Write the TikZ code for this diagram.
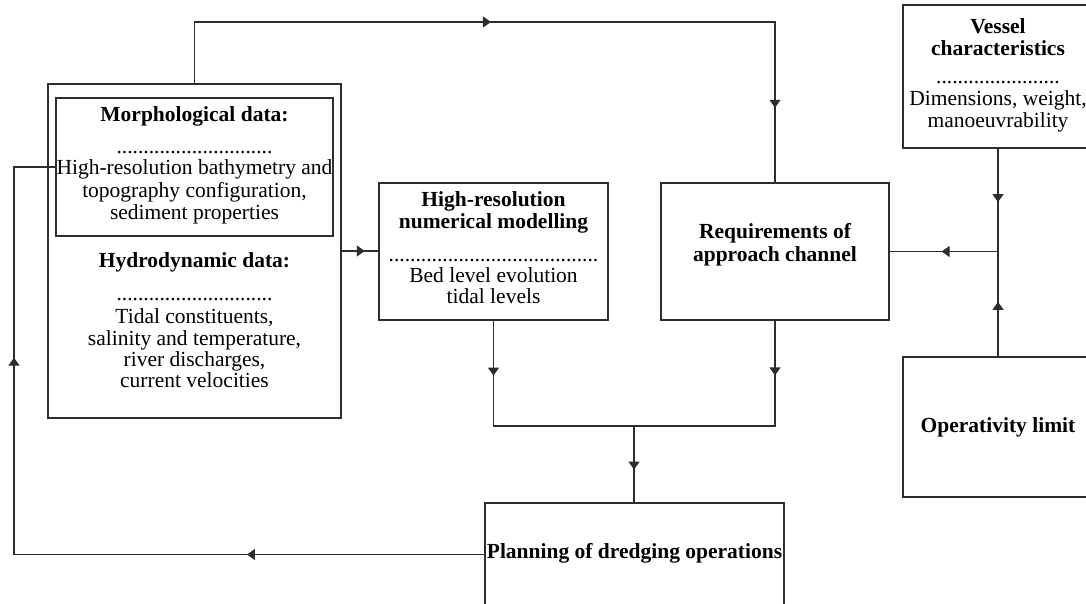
\documentclass[tikz,border=0pt]{standalone}
\usepackage{fontspec}
\setmainfont{Liberation Serif}
\usetikzlibrary{arrows.meta,decorations.markings}
\definecolor{lc}{RGB}{45,45,45}
\tikzset{
 box/.style={draw=lc, line width=1.2pt, inner sep=0pt},
 txt/.style={inner sep=0pt, font=\fontsize{21.5}{22}\selectfont, text height=14.5pt, text depth=4.5pt},
 btxt/.style={txt, font=\fontsize{21.5}{22}\selectfont\bfseries},
 dotline/.style={inner sep=0pt, anchor=base, font=\fontsize{21.5}{22}\selectfont},
 conn/.style={draw=lc, line width=1.2pt, line cap=rect},
 midarr/.style={postaction={decorate, decoration={markings, mark=at position #1 with {\arrow{Triangle[length=8pt,width=11pt]}}}}},
}
\begin{document}
\begin{tikzpicture}[x=1pt,y=-1pt]
\useasboundingbox (0,0) rectangle (1086,604);
% boxes
\node[box, minimum width=293pt, minimum height=334pt] (data) at (194.5,251) {};
\node[box, minimum width=277pt, minimum height=138pt] (morph) at (194.5,167) {};
\node[box, minimum width=229pt, minimum height=137pt] (model) at (493.5,251.5) {};
\node[box, minimum width=228pt, minimum height=137pt] (req) at (775,251.5) {};
\node[box, minimum width=190pt, minimum height=143pt] (vessel) at (998,76.5) {};
\node[box, minimum width=190pt, minimum height=140pt] (oper) at (998,427) {};
\node[box, minimum width=299pt, minimum height=103pt] (plan) at (634.5,554.5) {};
% texts
\node[btxt] (t1) at (194.5,117) {Morphological data:};
\node[dotline] (d1) at (194.5,154) {.............................};
\node[txt] (t2) at (194.5,170) {High-resolution bathymetry and};
\node[txt] (t3) at (194.5,192) {topography configuration,};
\node[txt] (t4) at (194.5,214) {sediment properties};
\node[btxt] (t5) at (194.5,262) {Hydrodynamic data:};
\node[dotline] (d2) at (194.5,300) {.............................};
\node[txt] (t6) at (194.5,318) {Tidal constituents,};
\node[txt] (t7) at (194.5,340) {salinity and temperature,};
\node[txt] (t8) at (194.5,361) {river discharges,};
\node[txt] (t9) at (194.5,382) {current velocities};
\node[btxt] (m1) at (493.5,202) {High-resolution};
\node[btxt] (m2) at (493.5,223) {numerical modelling};
\node[dotline] (d3) at (493.5,261) {.......................................};
\node[txt] (m3) at (493.5,277) {Bed level evolution};
\node[txt] (m4) at (493.5,298) {tidal levels};
\node[btxt] (r1) at (775,233) {Requirements of};
\node[btxt] (r2) at (775,256) {approach channel};
\node[btxt] (v1) at (998,29) {Vessel};
\node[btxt] (v2) at (998,51) {characteristics};
\node[dotline] (d4) at (998,84) {.......................};
\node[txt] (v3) at (998,101) {Dimensions, weight,};
\node[txt] (v4) at (998,123) {manoeuvrability};
\node[btxt] (o1) at (998,427) {Operativity limit};
\node[btxt] (p1) at (634.5,553) {Planning of dredging operations};
% helper coordinates
\coordinate (ytop) at (0,22);
\coordinate (j) at (634,426);
\coordinate (fbx) at (14,0);
% connectors
\draw[conn, midarr=0.446, midarr=0.907] (data.north) -- (data.north |- ytop) -- (req.north |- ytop) -- (req.north);
\draw[conn, midarr=0.63] (data.east) -- (model.west |- data.east);
\draw[conn, midarr=0.142] (model.south) -- (model.south |- j) -- (req.south |- j);
\draw[conn, midarr=0.52] (req.south) -- (req.south |- j);
\draw[conn, midarr=0.57] (j) -- (j |- plan.north);
\draw[conn, midarr=0.264, midarr=0.742] (plan.west) -- (plan.west -| fbx) -- (morph.west -| fbx) -- (morph.west);
\draw[conn, midarr=0.52] (vessel.south) -- (vessel.south |- req.east);
\draw[conn, midarr=0.52] (oper.north) -- (oper.north |- req.east);
\draw[conn, midarr=0.52] (vessel.south |- req.east) -- (req.east);
\end{tikzpicture}
\end{document}
